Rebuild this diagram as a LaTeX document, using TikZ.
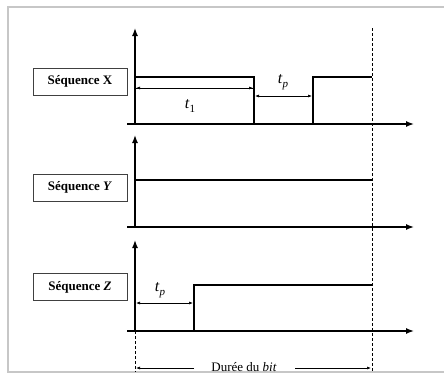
\documentclass[tikz,border=0pt]{standalone}
\usepackage{fontspec}
\setmainfont{Liberation Serif}
\usetikzlibrary{arrows.meta}
\begin{document}
\begin{tikzpicture}[x=1pt,y=-1pt,
  axis/.style={line width=1.4pt,-{Latex[length=8pt,width=6pt]}},
  sig/.style={line width=1.8pt},
  dim/.style={line width=0.6pt,{Latex[length=4pt,width=3pt]}-{Latex[length=4pt,width=3pt]}},
  oneway/.style={line width=0.6pt,-{Latex[length=4pt,width=3pt]}},
  lbl/.style={draw=black!75, line width=0.7pt, minimum width=94pt, minimum height=27pt,
    inner sep=0pt, font=\fontsize{13}{14}\selectfont\bfseries},
  guide/.style={line width=0.6pt, dash pattern=on 3pt off 2pt},
  tlab/.style={font=\fontsize{16}{17}\selectfont, inner sep=0pt}]
\useasboundingbox (0,0) rectangle (444,380);
\draw[black!22, line width=1.6pt] (8,7) rectangle (452,372);
% coordinates
\coordinate (xo) at (135,124);  \coordinate (xtop) at (135,28);
\coordinate (xl) at (127,124);  \coordinate (xr) at (414,124);
\coordinate (yo) at (135,227);  \coordinate (ytop) at (135,135);
\coordinate (yl) at (127,227);  \coordinate (yr) at (414,227);
\coordinate (zo) at (135,331);  \coordinate (ztop) at (135,240);
\coordinate (zl) at (127,331);  \coordinate (zr) at (414,331);
\coordinate (dtop) at (372,28); \coordinate (dbot) at (372,372);
\coordinate (lbot) at (135,372);
% label boxes
\node[lbl] (boxX) at (80,81.5) {Séquence X};
\node[lbl] (boxY) at (80,187.5) {Séquence \textit{Y}};
\node[lbl] (boxZ) at (80,287) {Séquence \textit{Z}};
% axes
\draw[axis] (xo) -- (xtop);
\draw[axis] (xl) -- (xr);
\draw[axis] (yo) -- (ytop);
\draw[axis] (yl) -- (yr);
\draw[axis] (zo) -- (ztop);
\draw[axis] (zl) -- (zr);
% guides
\draw[guide] (dtop) -- (dbot);
\draw[guide] (zo) -- (lbot);
% signals
\draw[sig] (135,77) -- (254,77) -- (254,124) -- (313,124) -- (313,77) -- (372,77);
\draw[sig] (135,180) -- (372,180);
\draw[sig] (135,331) -- (194,331) -- (194,285) -- (372,285);
% dimensions
\coordinate (t1a) at (136,88); \coordinate (t1b) at (253,88);
\draw[oneway] (t1a) -- (t1b);
\draw[oneway] (t1b) -- (t1a);
\node[tlab] (t1) at (190,106) {\textit{t}\raisebox{-4pt}{\fontsize{11}{12}\selectfont 1}};
\coordinate (tpa) at (255,96); \coordinate (tpb) at (312,96);
\draw[dim] (tpa) -- (tpb);
\node[tlab] (tp) at (283,82) {\textit{t}\raisebox{-4pt}{\fontsize{11}{12}\selectfont\textit{p}}};
\coordinate (tza) at (136,303); \coordinate (tzb) at (193,303);
\draw[dim] (tza) -- (tzb);
\node[tlab] (tz) at (160,290) {\textit{t}\raisebox{-4pt}{\fontsize{11}{12}\selectfont\textit{p}}};
% bit duration
\node[font=\fontsize{13}{14}\selectfont, inner sep=0pt] (dur) at (244,367) {Durée du \textit{bit}};
\coordinate (dl) at (136,368); \coordinate (dla) at (194,368);
\coordinate (dr) at (371,368); \coordinate (dra) at (295,368);
\draw[oneway] (dla) -- (dl);
\draw[oneway] (dra) -- (dr);
\end{tikzpicture}
\end{document}
